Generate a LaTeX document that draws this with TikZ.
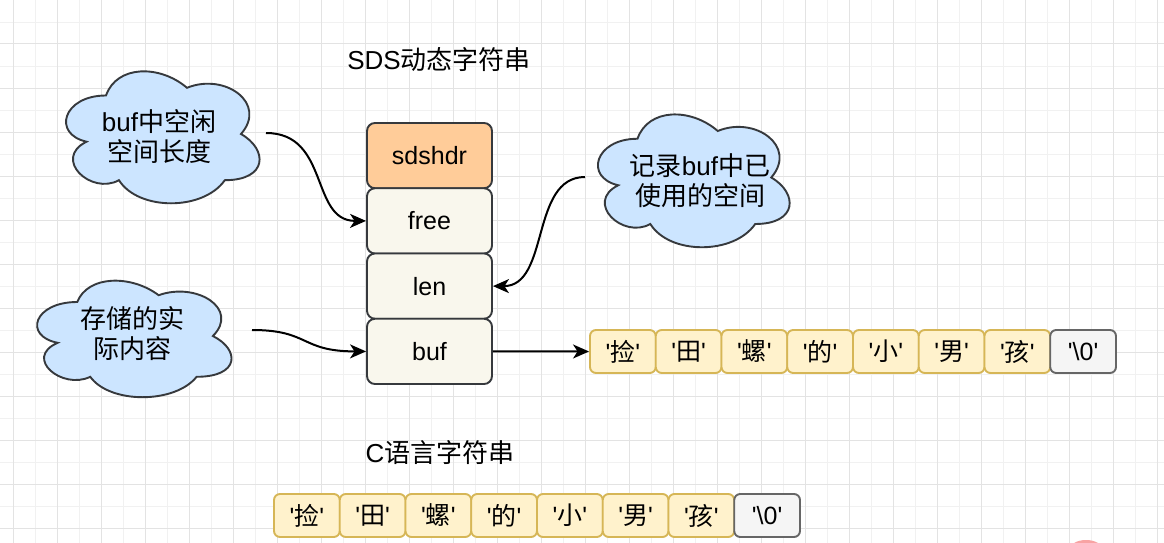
\documentclass[tikz,border=0pt]{standalone}
\usepackage{fontspec}
\setmainfont{Liberation Sans}
\newfontfamily\cjk{Noto Sans CJK SC}
\usetikzlibrary{arrows.meta}
\definecolor{strokedark}{HTML}{36393D}
\definecolor{hdrfill}{HTML}{FFCC99}
\definecolor{fieldfill}{HTML}{F9F7ED}
\definecolor{cellfill}{HTML}{FFF2CC}
\definecolor{cellstroke}{HTML}{D6B656}
\definecolor{nullfill}{HTML}{F5F5F5}
\definecolor{nullstroke}{HTML}{666666}
\definecolor{cloudfill}{HTML}{CCE5FF}
\definecolor{gridmajor}{HTML}{E3E3E3}
\definecolor{gridminor}{HTML}{F1F1F1}
\definecolor{blobpink}{HTML}{F8A3A3}
\newcommand{\q}{\textquotesingle}
\newcommand\mxcloud[4]{%
\draw[cloudshape] ({#1+0.25*#3},{#2+0.25*#4})
 .. controls ({#1+0.05*#3},{#2+0.25*#4}) and ({#1},{#2+0.5*#4}) .. ({#1+0.16*#3},{#2+0.55*#4})
 .. controls ({#1},{#2+0.66*#4}) and ({#1+0.18*#3},{#2+0.9*#4}) .. ({#1+0.31*#3},{#2+0.8*#4})
 .. controls ({#1+0.4*#3},{#2+#4}) and ({#1+0.7*#3},{#2+#4}) .. ({#1+0.8*#3},{#2+0.8*#4})
 .. controls ({#1+#3},{#2+0.8*#4}) and ({#1+#3},{#2+0.6*#4}) .. ({#1+0.875*#3},{#2+0.5*#4})
 .. controls ({#1+#3},{#2+0.3*#4}) and ({#1+0.8*#3},{#2+0.1*#4}) .. ({#1+0.625*#3},{#2+0.2*#4})
 .. controls ({#1+0.5*#3},{#2+0.05*#4}) and ({#1+0.3*#3},{#2+0.05*#4}) .. cycle;}
\begin{document}
\begin{tikzpicture}[x=1pt,y=-1pt,
  txt/.style={font=\fontsize{25}{30}\selectfont, text=black},
  stackbox/.style={txt, draw=strokedark, line width=1.9pt, rounded corners=8pt,
    fill=fieldfill, minimum width=125pt, minimum height=65.25pt, inner sep=0pt},
  cellbox/.style={txt, draw=cellstroke, line width=1.9pt, rounded corners=6pt,
    fill=cellfill, minimum width=65.75pt, minimum height=43pt, inner sep=0pt},
  nullbox/.style={cellbox, draw=nullstroke, fill=nullfill},
  cloudshape/.style={draw=strokedark, line width=1.9pt, fill=cloudfill},
  cloudtext/.style={txt, font=\fontsize{26}{30}\selectfont, align=center, inner sep=0pt},
  title/.style={font=\fontsize{26}{30}\selectfont, inner sep=0pt},
  link/.style={line width=2pt, -{Stealth[length=16pt,width=14pt,inset=4.5pt]}}
]
\useasboundingbox (0,0) rectangle (1164,543);
\fill[white] (0,0) rectangle (1164,543);
% grid
\foreach \gx in {-9,35,...,1164} \draw[gridminor, line width=0.8pt] (\gx,0) -- (\gx,543);
\foreach \gy in {22,66,...,543} \draw[gridminor, line width=0.8pt] (0,\gy) -- (1164,\gy);
\foreach \gx in {13,57,...,1164} \draw[gridmajor, line width=1pt] (\gx,0) -- (\gx,543);
\foreach \gy in {0,44,...,543} \draw[gridmajor, line width=1pt] (0,\gy) -- (1164,\gy);

% titles
\node[title] (sdstitle) at (439,60) {SDS{\cjk 动态字符串}};
\node[title] (ctitle) at (440,453) {C{\cjk 语言字符串}};

% stack
\node[stackbox, fill=hdrfill] (hdr) at (429.5,155.6) {sdshdr};
\node[stackbox] (free) at (429.5,220.9) {free};
\node[stackbox] (len) at (429.5,286.1) {len};
\node[stackbox] (buf) at (429.5,351.4) {buf};

% top array
\foreach \ch [count=\i] in {捡,田,螺,的,小,男,孩}
  \node[cellbox] (t\i) at ({590+32.875+65.75*(\i-1)},351.5) {\q{\cjk \ch}\q};
\node[nullbox] (t8) at ({590+32.875+65.75*7},351.5) {\q\textbackslash 0\q};

% bottom array
\foreach \ch [count=\i] in {捡,田,螺,的,小,男,孩}
  \node[cellbox] (b\i) at ({274+32.875+65.75*(\i-1)},515.5) {\q{\cjk \ch}\q};
\node[nullbox] (b8) at ({274+32.875+65.75*7},515.5) {\q\textbackslash 0\q};

% clouds
\mxcloud{52}{57}{216}{154}
\node[cloudtext] (c1) at (159,137) {buf{\cjk 中空闲}\\{\cjk 空间长度}};
\mxcloud{584}{100}{214}{155}
\node[cloudtext] (c2) at (700,181) {{\cjk 记录}buf{\cjk 中已}\\{\cjk 使用的空间}};
\mxcloud{23}{268}{217}{136}
\node[cloudtext] (c3) at (132,334) {{\cjk 存储的实}\\{\cjk 际内容}};

% connector start points
\coordinate (s1) at (266,133);
\coordinate (s2) at (585,177);
\coordinate (s3) at (252,330);

\draw[link] (s1) .. controls (330,133) and (310,220.9) .. (free.west);
\draw[link] (s2) .. controls (530,177) and (550,286.1) .. (len.east);
\draw[link] (s3) .. controls (310,330) and (300,351.4) .. (buf.west);
\draw[link] (buf.east) -- (t1.west);

% pink blob at bottom edge
\fill[blobpink] (1086,549) ellipse (16pt and 9pt);
\end{tikzpicture}
\end{document}
